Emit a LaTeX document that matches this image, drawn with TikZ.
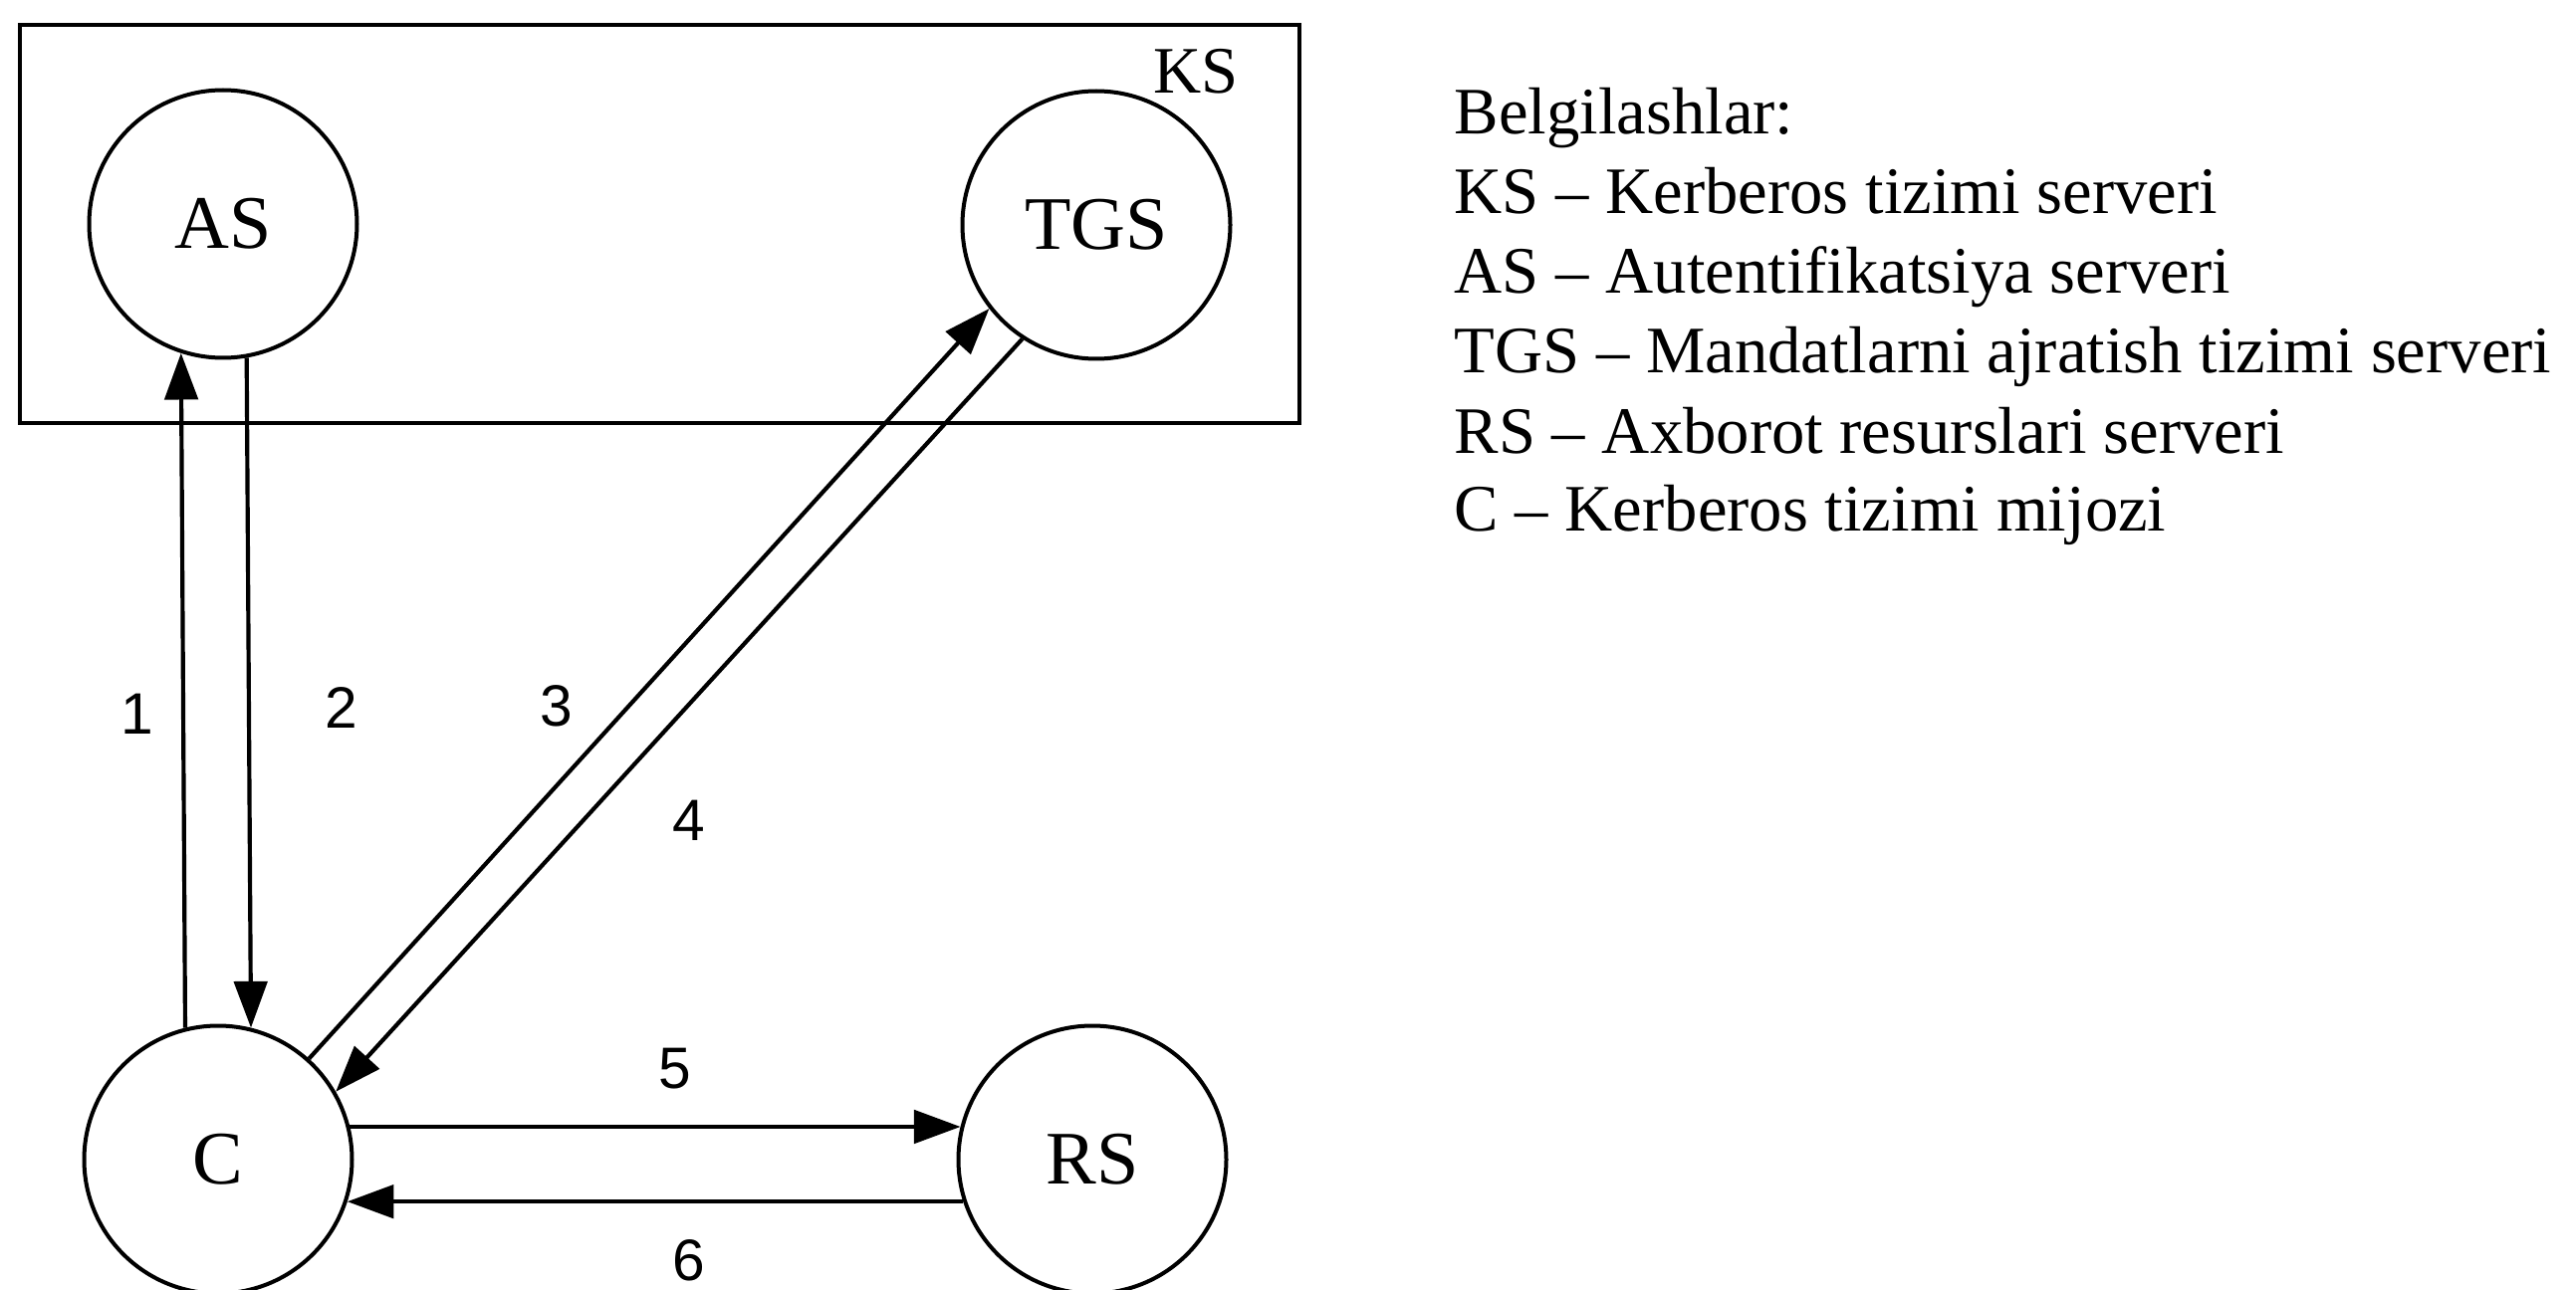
\documentclass[tikz,border=0pt]{standalone}
\usepackage{fontspec}
\setmainfont{Liberation Serif}
\newfontfamily\numfont{Liberation Sans}
\usetikzlibrary{arrows.meta}
\begin{document}
\begin{tikzpicture}[x=0.3pt,y=-0.3pt,
  srv/.style={draw, circle, line width=1.2pt, minimum size=80.7pt, inner sep=0pt,
    font=\fontsize{22.8}{27}\selectfont},
  msg/.style={line width=1.25pt, -{Triangle[length=14pt,width=10pt]}},
  num/.style={font=\numfont\fontsize{17.6}{20}\selectfont, inner sep=0pt},
  leg/.style={anchor=base west, inner sep=0pt, font=\fontsize{20}{24}\selectfont}]
\useasboundingbox (0,0) rectangle (2587,1296);
% Kerberos server box
\node[draw, line width=1.4pt, minimum width=385.5pt, minimum height=120pt, inner sep=0pt] (KSbox) at (662.5,225) {};
\node[inner sep=0pt, font=\fontsize{20}{24}\selectfont] (KSlabel) at (1201,72) {KS};
% servers
\node[srv] (AS)  at (224,225)  {AS};
\node[srv] (TGS) at (1101,226) {TGS};
\node[srv] (C)   at (219,1165) {C};
\node[srv] (RS)  at (1097,1165) {RS};
% messages
\draw[msg] (C.104.5) -- (AS.252.9);
\draw[msg] (AS.280.6) -- (C.76.8);
\draw[msg] (C.48.7) -- (TGS.218.2);
\draw[msg] (TGS.237.1) -- (C.30.8);
\draw[msg] (C.14) -- (RS.166);
\draw[msg] (RS.198) -- (C.-18);
% message numbers
\node[num] (n1) at (138,717) {1};
\node[num] (n2) at (343,711) {2};
\node[num] (n3) at (559,709) {3};
\node[num] (n4) at (692,824) {4};
\node[num] (n5) at (678,1074) {5};
\node[num] (n6) at (692,1266) {6};
% legend
\node[leg] (L0) at (1460,135) {Belgilashlar:};
\node[leg] (L1) at (1460,215) {KS – Kerberos tizimi serveri};
\node[leg] (L2) at (1460,294) {AS – Autentifikatsiya serveri};
\node[leg] (L3) at (1460,375) {TGS – Mandatlarni ajratish tizimi serveri};
\node[leg] (L4) at (1460,455) {RS – Axborot resurslari serveri};
\node[leg] (L5) at (1460,533) {C – Kerberos tizimi mijozi};
\end{tikzpicture}
\end{document}
